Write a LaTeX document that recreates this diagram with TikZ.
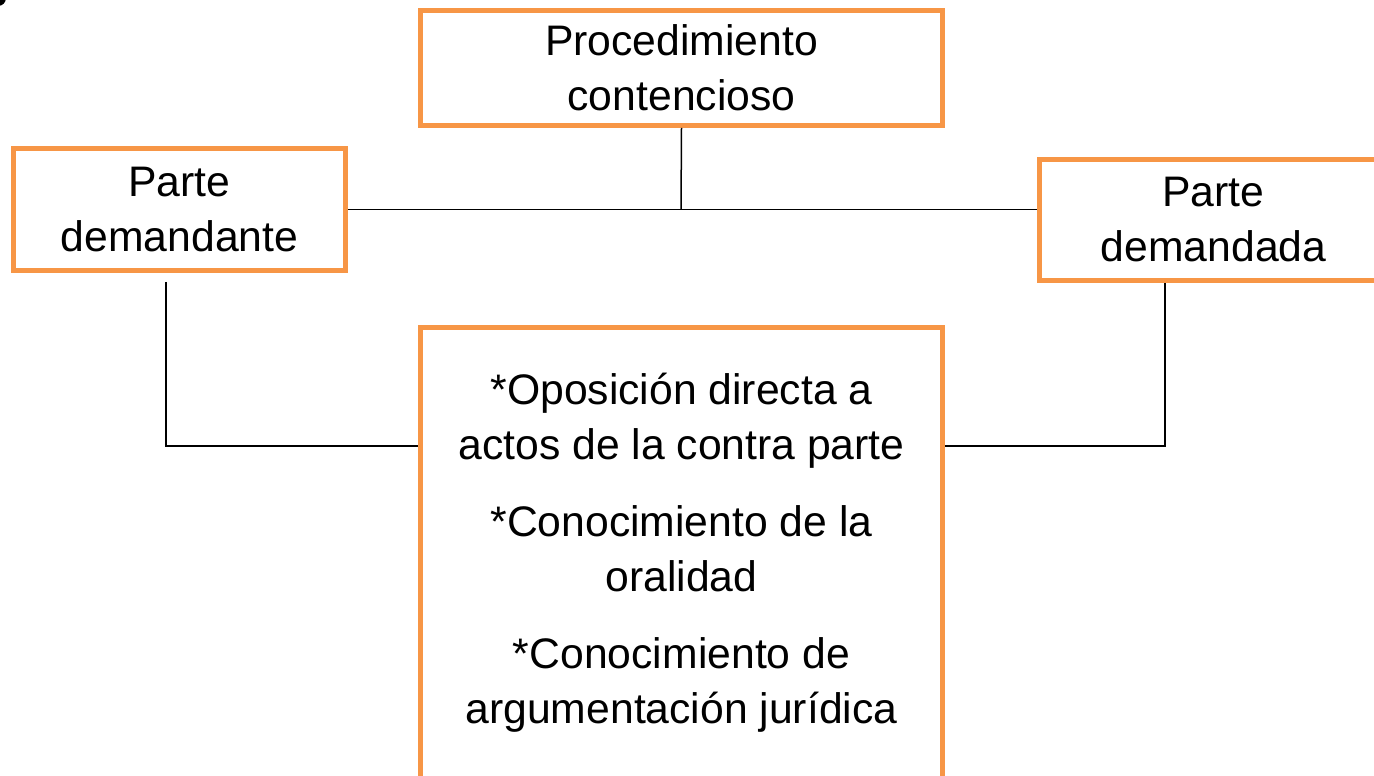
\documentclass[tikz,border=0pt]{standalone}
\usepackage{fontspec}
\setmainfont{Liberation Sans}
\definecolor{boxorange}{HTML}{F79646}
\begin{document}
\begin{tikzpicture}[x=1pt,y=1pt,
  box/.style={draw=boxorange,line width=5pt,inner sep=0pt,align=center,
    font=\fontsize{42.7}{55}\selectfont},
  txt/.style={inner sep=0pt,align=center,font=\fontsize{42.7}{55}\selectfont},
  link/.style={draw=black,line width=1.5pt}]
\useasboundingbox (0,0) rectangle (1374,776);
\fill[black] (-2,778) circle (8);
\node[box,minimum width=522pt,minimum height=115pt] (top) at (681.5,708) {Procedimiento\\contencioso};
\node[box,minimum width=332pt,minimum height=122pt] (left) at (179.5,566.5) {Parte\\demandante};
\node[box,minimum width=348pt,minimum height=121pt] (right) at (1213.5,556) {Parte\\demandada};
\node[box,minimum width=522pt,minimum height=472.5pt] (bot) at (681.5,212.25) {};
\node[txt] (bottxt) at (681.5,223.5) {*Oposición directa a\\actos de la contra parte\\[22pt]*Conocimiento de la\\oralidad\\[22pt]*Conocimiento de\\argumentación jurídica};
\coordinate (j) at (681,566.5);
\coordinate (ls) at (166,494);
\coordinate (lm) at (166,330);
\coordinate (rs) at (1165,493);
\coordinate (rm) at (1165,330);
\draw[link] (top.south) -- (j);
\draw[link] (left.east |- j) -- (j) -- (j -| right.west);
\draw[link] (ls) -- (lm) -- (lm -| bot.west);
\draw[link] (rs) -- (rm) -- (rm -| bot.east);
\end{tikzpicture}
\end{document}
